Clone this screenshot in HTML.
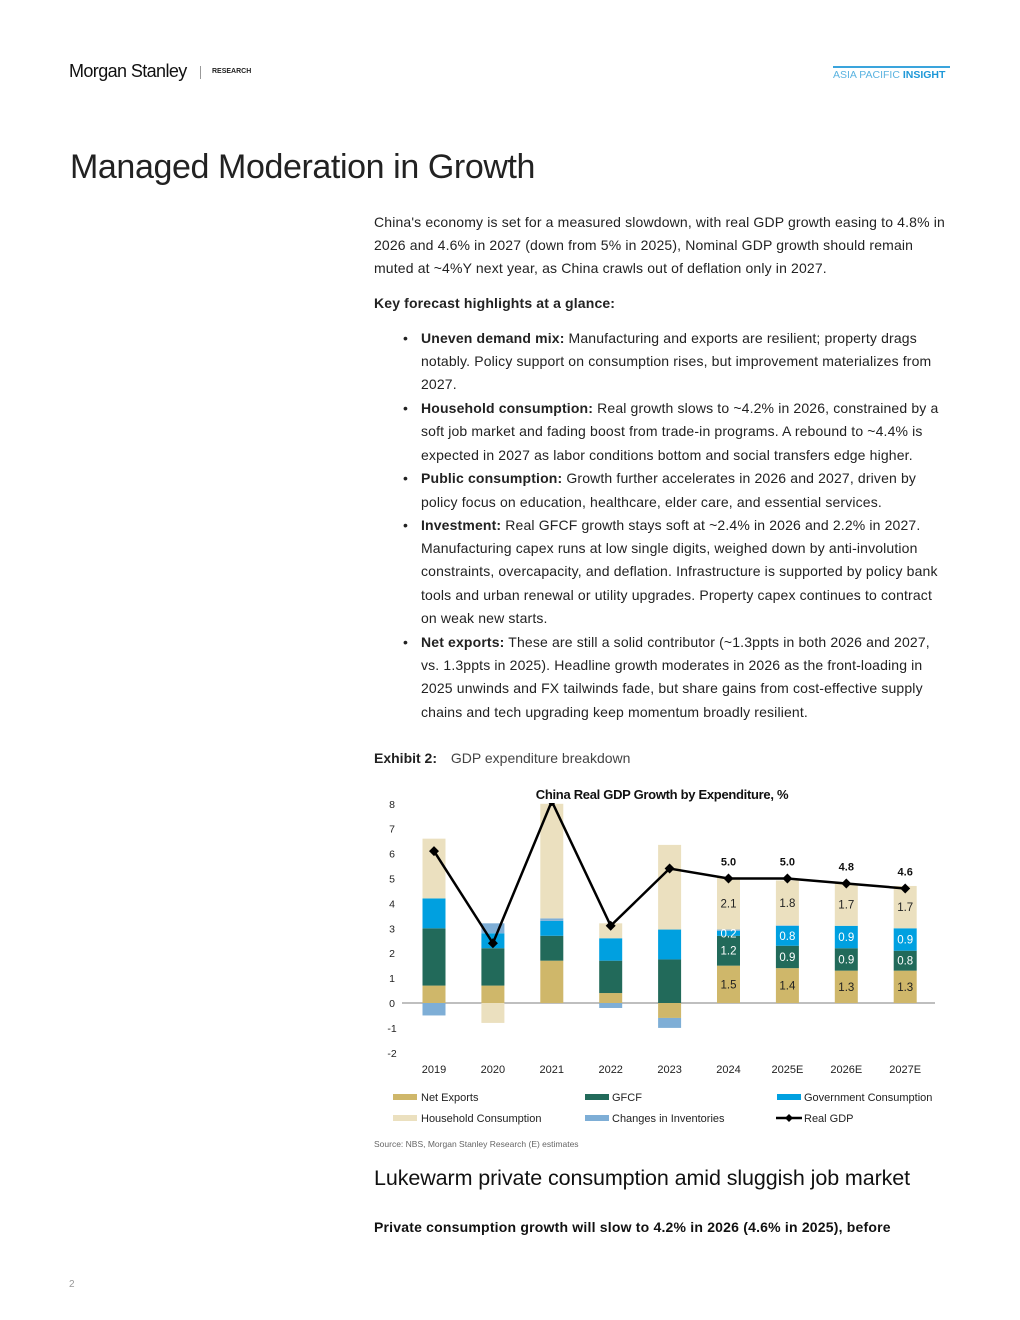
<!DOCTYPE html>
<html><head><meta charset="utf-8"><style>
body{margin:0;background:#fff;font-family:"Liberation Sans",sans-serif;color:#222}
#page{position:relative;width:1020px;height:1320px;overflow:hidden}
.a{position:absolute;white-space:nowrap}
.l{position:absolute;left:374px;font-size:14px;line-height:18px;white-space:nowrap;color:#222;letter-spacing:0.15px}
.b{left:421px}
.dot{position:absolute;left:403px;font-size:14px;line-height:18px}
</style></head><body><div id="page">
<div class="a" style="left:69px;top:61px;font-size:18px;letter-spacing:-0.6px;color:#111">Morgan Stanley</div>
<div class="a" style="left:200px;top:66px;width:1px;height:13px;background:#999"></div>
<div class="a" style="left:212px;top:68px;font-size:7px;font-weight:bold">RESEARCH</div>
<div class="a" style="left:833px;top:66px;font-size:10.5px;color:#5ab3e0;border-top:2px solid #3aa4dc;padding-top:1px;width:117px">ASIA PACIFIC <b style="color:#1e98d8">INSIGHT</b></div>
<div class="a" style="left:70px;top:148px;font-size:34px;color:#222;letter-spacing:-0.4px">Managed Moderation in Growth</div>

<div class="l" style="top:213px">China's economy is set for a measured slowdown, with real GDP growth easing to 4.8% in</div>
<div class="l" style="top:236px">2026 and 4.6% in 2027 (down from 5% in 2025), Nominal GDP growth should remain</div>
<div class="l" style="top:259px">muted at ~4%Y next year, as China crawls out of deflation only in 2027.</div>
<div class="l" style="top:294px;font-weight:bold">Key forecast highlights at a glance:</div>

<div class="dot" style="top:329px">•</div>
<div class="l b" style="top:329px"><b>Uneven demand mix:</b> Manufacturing and exports are resilient; property drags</div>
<div class="l b" style="top:352px">notably. Policy support on consumption rises, but improvement materializes from</div>
<div class="l b" style="top:375px">2027.</div>
<div class="dot" style="top:399px">•</div>
<div class="l b" style="top:399px"><b>Household consumption:</b> Real growth slows to ~4.2% in 2026, constrained by a</div>
<div class="l b" style="top:422px">soft job market and fading boost from trade-in programs. A rebound to ~4.4% is</div>
<div class="l b" style="top:446px">expected in 2027 as labor conditions bottom and social transfers edge higher.</div>
<div class="dot" style="top:469px">•</div>
<div class="l b" style="top:469px"><b>Public consumption:</b> Growth further accelerates in 2026 and 2027, driven by</div>
<div class="l b" style="top:493px">policy focus on education, healthcare, elder care, and essential services.</div>
<div class="dot" style="top:516px">•</div>
<div class="l b" style="top:516px"><b>Investment:</b> Real GFCF growth stays soft at ~2.4% in 2026 and 2.2% in 2027.</div>
<div class="l b" style="top:539px">Manufacturing capex runs at low single digits, weighed down by anti-involution</div>
<div class="l b" style="top:562px">constraints, overcapacity, and deflation. Infrastructure is supported by policy bank</div>
<div class="l b" style="top:586px">tools and urban renewal or utility upgrades. Property capex continues to contract</div>
<div class="l b" style="top:609px">on weak new starts.</div>
<div class="dot" style="top:633px">•</div>
<div class="l b" style="top:633px"><b>Net exports:</b> These are still a solid contributor (~1.3ppts in both 2026 and 2027,</div>
<div class="l b" style="top:656px">vs. 1.3ppts in 2025). Headline growth moderates in 2026 as the front-loading in</div>
<div class="l b" style="top:679px">2025 unwinds and FX tailwinds fade, but share gains from cost-effective supply</div>
<div class="l b" style="top:703px">chains and tech upgrading keep momentum broadly resilient.</div>

<div class="l" style="top:749px;letter-spacing:0"><b>Exhibit 2:</b> <span style="margin-left:10px;color:#444">GDP expenditure breakdown</span></div>

<svg id="chart" class="a" style="left:0;top:0" width="1020" height="1320">
<defs><clipPath id="pc"><rect x="380" y="803" width="570" height="270"/></clipPath></defs>
<text x="662" y="799" text-anchor="middle" font-size="13" font-weight="bold" fill="#111" letter-spacing="-0.3" font-family="Liberation Sans Narrow, Liberation Sans, sans-serif">China Real GDP Growth by Expenditure, %</text>
<g id="axes"></g><g id="bars" clip-path="url(#pc)"></g><g id="vlabels"></g><g id="line"></g>
<g font-size="11" fill="#222" font-family="Liberation Sans Narrow, Liberation Sans, sans-serif">
<rect x="393" y="1094" width="24" height="6" fill="#cfb76a"/><text x="421" y="1101">Net Exports</text>
<rect x="585" y="1094" width="24" height="6" fill="#226a5a"/><text x="612" y="1101">GFCF</text>
<rect x="777" y="1094" width="24" height="6" fill="#00a0e0"/><text x="804" y="1101">Government Consumption</text>
<rect x="393" y="1115" width="24" height="6" fill="#ebe0bf"/><text x="421" y="1122">Household Consumption</text>
<rect x="585" y="1115" width="24" height="6" fill="#7eaed6"/><text x="612" y="1122">Changes in Inventories</text>
<line x1="776" y1="1118" x2="802" y2="1118" stroke="#000" stroke-width="2.5"/><path d="M789 1114 L793 1118 L789 1122 L785 1118Z" fill="#000"/><text x="804" y="1122">Real GDP</text>
</g>
<text x="374" y="1147" font-size="8.5" fill="#666">Source: NBS, Morgan Stanley Research (E) estimates</text>
</svg>

<div class="a" style="left:374px;top:1166px;font-size:21.5px;color:#111;letter-spacing:-0.1px">Lukewarm private consumption amid sluggish job market</div>
<div class="a" style="left:374px;top:1219px;font-size:14px;font-weight:bold;color:#111;letter-spacing:0.2px">Private consumption growth will slow to 4.2% in 2026 (4.6% in 2025), before</div>
<div class="a" style="left:69px;top:1279px;font-size:10px;color:#999">2</div>
</div>
<script>
const categories=["2019","2020","2021","2022","2023","2024","2025E","2026E","2027E"];
const netExports=[0.7,0.7,1.7,0.4,-0.6,1.5,1.4,1.3,1.3];
const gfcf=[2.3,1.5,1.0,1.3,1.75,1.2,0.9,0.9,0.8];
const govCons=[1.2,0.6,0.6,0.9,1.2,0.2,0.8,0.9,0.9];
const inventories=[-0.5,0.4,0.1,-0.2,-0.4,0.05,0.02,0,0];
const household=[2.4,-0.8,4.6,0.6,3.4,2.1,1.8,1.7,1.7];
const realGdp=[6.1,2.4,8.1,3.1,5.4,5.0,5.0,4.8,4.6];
const yTicks=[8,7,6,5,4,3,2,1,0,-1,-2];
const NS="http://www.w3.org/2000/svg";
const y0=1003,ppu=24.9,x0=434,dx=58.9,bw=23;
const Y=v=>y0-v*ppu, X=i=>x0+i*dx;
function mk(t,a,p){const e=document.createElementNS(NS,t);for(const k in a)e.setAttribute(k,a[k]);p.appendChild(e);return e;}
const ax=document.getElementById('axes'),bars=document.getElementById('bars'),ln=document.getElementById('line'),vl=document.getElementById('vlabels');
const FF='Liberation Sans Narrow, Liberation Sans, sans-serif';
yTicks.forEach(v=>{const t=mk('text',{x:392,y:Y(v)+4,'text-anchor':'middle','font-size':10.5,fill:'#222','font-family':FF},ax);t.textContent=v;

});
categories.forEach((c,i)=>{const t=mk('text',{x:X(i),y:1073,'text-anchor':'middle','font-size':11,fill:'#222','font-family':FF},ax);t.textContent=c;

});
const series=[[netExports,'#cfb76a','net-exports'],[gfcf,'#226a5a','gfcf'],[govCons,'#00a0e0','gov'],[inventories,'#7eaed6','inventories'],[household,'#ebe0bf','household']];
categories.forEach((c,i)=>{let pos=0,neg=0;
series.forEach(([arr,col,nm],si)=>{const v=arr[i];if(!v)return;let a,b;
if(v>0){a=pos;b=pos+v;pos=b;}else{a=neg;b=neg+v;neg=b;}
const r=mk('rect',{x:X(i)-bw/2,y:Y(Math.max(a,b)),width:bw,height:Math.abs(v)*ppu,fill:col},bars);


if(i>=5&&nm!=='inventories'&&Math.abs(v)>=0.15){const t=mk('text',{x:X(i),y:Y((a+b)/2)+4,'text-anchor':'middle','font-size':11.5,fill:nm==='household'||nm==='net-exports'?'#222':'#fff','font-family':FF},vl);t.textContent=v.toFixed(1);

}
});});
mk('line',{x1:402,x2:935,y1:y0,y2:y0,stroke:'#999','stroke-width':1.2},ax);
const g=mk('g',{'clip-path':'url(#pc)'},ln);
const pl=mk('polyline',{points:realGdp.map((v,i)=>X(i)+','+Y(v)).join(' '),fill:'none',stroke:'#000','stroke-width':2.5},g);


realGdp.forEach((v,i)=>{const p=mk('path',{d:`M${X(i)} ${Y(v)-5}L${X(i)+5} ${Y(v)}L${X(i)} ${Y(v)+5}L${X(i)-5} ${Y(v)}Z`,fill:'#000'},g);


if(i>=5){const t=mk('text',{x:X(i),y:Y(v)-13,'text-anchor':'middle','font-size':11,'font-weight':'bold',fill:'#111','font-family':FF},ln);t.textContent=v.toFixed(1);

}});
</script>
</body></html>
